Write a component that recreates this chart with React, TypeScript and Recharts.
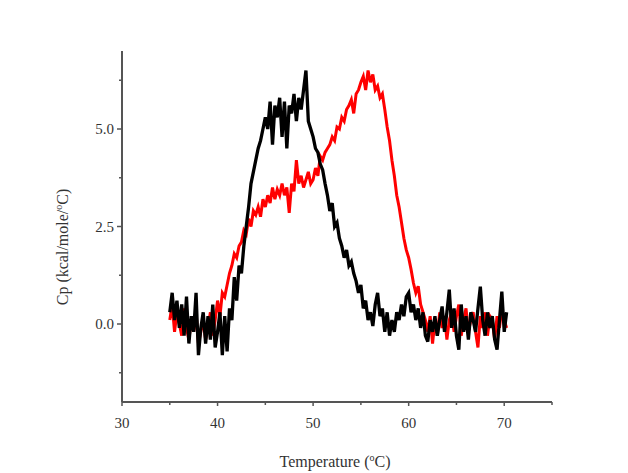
import React from "react";
import { LineChart, Line, XAxis, YAxis } from "recharts";

const temperatures = [
  35.0, 35.25, 35.5, 35.75, 36.0, 36.25, 36.5, 36.75, 37.0, 37.25, 37.5, 37.75,
  38.0, 38.25, 38.5, 38.75, 39.0, 39.25, 39.5, 39.75, 40.0, 40.25, 40.5, 40.75,
  41.0, 41.25, 41.5, 41.75, 42.0, 42.25, 42.5, 42.75, 43.0, 43.25, 43.5, 43.75,
  44.0, 44.25, 44.5, 44.75, 45.0, 45.25, 45.5, 45.75, 46.0, 46.25, 46.5, 46.75,
  47.0, 47.25, 47.5, 47.75, 48.0, 48.25, 48.5, 48.75, 49.0, 49.25, 49.5, 49.75,
  50.0, 50.25, 50.5, 50.75, 51.0, 51.25, 51.5, 51.75, 52.0, 52.25, 52.5, 52.75,
  53.0, 53.25, 53.5, 53.75, 54.0, 54.25, 54.5, 54.75, 55.0, 55.25, 55.5, 55.75,
  56.0, 56.25, 56.5, 56.75, 57.0, 57.25, 57.5, 57.75, 58.0, 58.25, 58.5, 58.75,
  59.0, 59.25, 59.5, 59.75, 60.0, 60.25, 60.5, 60.75, 61.0, 61.25, 61.5, 61.75,
  62.0, 62.25, 62.5, 62.75, 63.0, 63.25, 63.5, 63.75, 64.0, 64.25, 64.5, 64.75,
  65.0, 65.25, 65.5, 65.75, 66.0, 66.25, 66.5, 66.75, 67.0, 67.25, 67.5, 67.75,
  68.0, 68.25, 68.5, 68.75, 69.0, 69.25, 69.5, 69.75, 70.0, 70.25,
];

const blackCp = [
  0.3, 0.8, 0.1, 0.6, -0.1, 0.5, -0.3, 0.7, -0.5, 0.2, -0.2, 0.8,
  -0.8, -0.1, 0.3, -0.5, 0.2, -0.4, 0.5, -0.6, -0.2, 0.3, -0.8, 0.2,
  -0.7, 0.4, 0.1, 1.2, 0.6, 1.5, 1.3, 2.0, 2.5, 3.0, 3.6, 3.9,
  4.2, 4.5, 4.7, 5.0, 5.3, 5.0, 5.7, 4.6, 5.6, 5.3, 5.8, 4.8,
  5.7, 4.5, 5.6, 5.4, 5.9, 5.2, 5.8, 5.5, 6.0, 6.5, 5.2, 5.0,
  4.8, 4.5, 4.4, 4.1, 3.95, 3.6, 3.3, 2.9, 3.1, 2.5, 2.6, 2.2,
  2.0, 1.7, 1.9, 1.5, 1.6, 1.3, 1.1, 0.8, 1.0, 0.4, 0.6, 0.1,
  0.3, -0.05, 0.5, 0.8, 0.2, 0.4, -0.2, 0.3, -0.3, 0.1, -0.2, 0.3,
  0.1, 0.5, 0.2, 0.7, 0.8, 0.3, 0.5, 0.1, 0.4, -0.1, 0.3, -0.3,
  -0.45, 0.1, -0.2, 0.2, -0.3, 0.1, 0.45, -0.2, 0.3, 0.88, -0.1, 0.4,
  -0.3, -0.66, 0.5, -0.2, 0.2, -0.4, 0.3, 0.1, -0.2, 0.4, 0.96, 0.1,
  -0.3, 0.3, -0.1, 0.2, -0.4, -0.66, 0.1, 0.83, -0.2, 0.3,
];

const redCp = [
  0.1, 0.5, -0.2, 0.3, 0.0, -0.3, 0.4, -0.1, -0.4, 0.1, -0.2, 0.3,
  -0.5, -0.2, 0.1, -0.4, -0.1, 0.3, -0.3, 0.1, 0.6, 0.2, 0.8, 0.7,
  1.0, 1.3, 1.5, 1.8, 1.7, 2.0, 2.1, 2.4, 2.3, 2.7, 2.5, 2.9,
  2.8, 3.0, 2.75, 3.2, 3.0, 3.3, 3.1, 3.5, 3.2, 3.45, 3.3, 3.6,
  3.3, 3.5, 2.85, 3.6, 3.4, 4.2, 3.6, 3.8, 3.5, 3.7, 3.9, 3.6,
  3.7, 4.0, 3.8, 4.3, 4.2, 4.4, 4.5, 4.6, 4.8, 4.7, 5.05, 5.0,
  5.3, 5.2, 5.5, 5.6, 5.75, 5.4, 5.9, 6.0, 6.2, 6.35, 6.0, 6.5,
  6.2, 6.4, 6.0, 6.1, 5.8, 5.9, 5.5, 5.05, 4.7, 4.2, 3.8, 3.3,
  3.0, 2.6, 2.2, 1.9, 1.7, 1.4, 1.05, 0.8, 0.97, 0.5, 0.3, 0.1,
  -0.2, 0.2, -0.5, 0.1, -0.3, 0.3, -0.1, 0.2, -0.4, 0.1, 0.3, -0.2,
  0.2, 0.5, -0.3, 0.1, 0.4, -0.2, 0.1, 0.3, -0.2, -0.6, 0.2, -0.1,
  0.3, -0.3, 0.2, 0.1, -0.4, 0.2, -0.1, 0.4, 0.1, -0.1,
];

const xTicks = [30, 35, 40, 45, 50, 55, 60, 65, 70, 75];
const xLabeled = [30, 40, 50, 60, 70];
const yTicks = [-1.25, 0, 1.25, 2.5, 3.75, 5, 6.25];
const yLabeled = [0, 2.5, 5];

const data = temperatures.map((t, i) => ({ t, black: blackCp[i], red: redCp[i] }));

const FONT = '"Liberation Serif", "DejaVu Serif", serif';
const AXIS = "#555";
const TEXT = "#333";

const XTick = (props: any) => {
  const { x, y, payload } = props;
  const v = payload.value;
  const major = xLabeled.includes(v);
  return (
    <g>
      <line x1={x} x2={x} y1={y} y2={y + (major ? 4 : 3)} stroke={AXIS} strokeWidth={1.5} />
      {major && (
        <text x={x} y={y + 26} textAnchor="middle" fontFamily={FONT} fontSize={15} fill={TEXT}>
          {v}
        </text>
      )}
    </g>
  );
};

const YTick = (props: any) => {
  const { x, y, payload } = props;
  const v = payload.value;
  const major = yLabeled.includes(v);
  return (
    <g>
      <line x1={x} x2={x - (major ? 5 : 3)} y1={y} y2={y} stroke={AXIS} strokeWidth={1.5} />
      {major && (
        <text x={x - 8} y={y + 5} textAnchor="end" fontFamily={FONT} fontSize={15} fill={TEXT}>
          {v.toFixed(1)}
        </text>
      )}
    </g>
  );
};

const XLabel = () => (
  <text x={335} y={467} textAnchor="middle" fontFamily={FONT} fontSize={16} fill={TEXT}>
    Temperature (
    <tspan dy={-6} fontSize={10}>o</tspan>
    <tspan dy={6}>C)</tspan>
  </text>
);

const YLabel = () => (
  <text
    x={0}
    y={0}
    transform="translate(68,247) rotate(-90)"
    textAnchor="middle"
    fontFamily={FONT}
    fontSize={16}
    fill={TEXT}
  >
    Cp (kcal/mole/
    <tspan dy={-6} fontSize={10}>o</tspan>
    <tspan dy={6}>C)</tspan>
  </text>
);

export default function App() {
  return (
    <div style={{ position: "absolute", left: 0, top: 0, width: 628, height: 473, background: "#fff" }}>
      <LineChart
        width={628}
        height={473}
        data={data}
        margin={{ top: 51, right: 76, bottom: 41, left: 62 }}
      >
        <XAxis
          dataKey="t"
          type="number"
          domain={[30, 75]}
          ticks={xTicks}
          interval={0}
          height={30}
          tickSize={0}
          tickMargin={0}
          tickLine={false}
          axisLine={{ stroke: AXIS, strokeWidth: 2 }}
          tick={<XTick />}
          label={<XLabel />}
        />
        <YAxis
          type="number"
          domain={[-2, 7]}
          ticks={yTicks}
          interval={0}
          width={60}
          tickSize={0}
          tickMargin={0}
          tickLine={false}
          axisLine={{ stroke: AXIS, strokeWidth: 2 }}
          tick={<YTick />}
          label={<YLabel />}
          allowDataOverflow
        />
        <Line
          dataKey="red"
          type="linear"
          stroke="#ff0000"
          strokeWidth={3}
          dot={false}
          isAnimationActive={false}
        />
        <Line
          dataKey="black"
          type="linear"
          stroke="#000000"
          strokeWidth={3.3}
          dot={false}
          isAnimationActive={false}
        />
      </LineChart>
    </div>
  );
}
